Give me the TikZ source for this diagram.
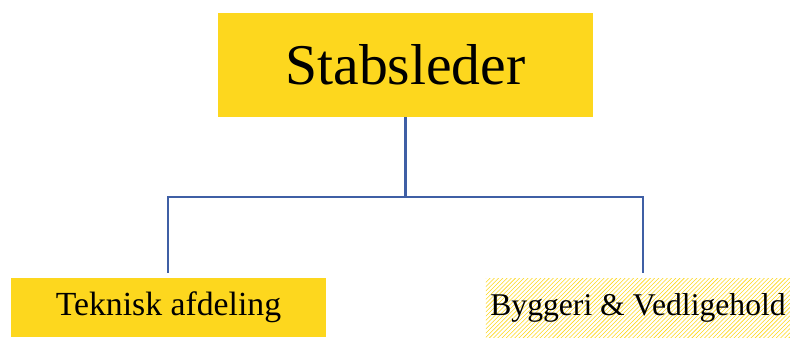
\documentclass[tikz,border=0pt]{standalone}
\usepackage{fontspec}
\setmainfont{Liberation Serif}
\usetikzlibrary{patterns}
\definecolor{boxyellow}{HTML}{FDD71E}
\definecolor{lineblue}{HTML}{3F5FA5}
\begin{document}
\begin{tikzpicture}[x=0.025cm,y=-0.025cm]
\tikzset{
  chief/.style={fill=boxyellow, inner sep=0pt, minimum width=9.375cm, minimum height=2.6cm, font=\fontsize{41}{48}\selectfont},
  unit/.style={inner sep=0pt, minimum width=7.875cm, minimum height=1.475cm, font=\fontsize{22.5}{27}\selectfont},
  link/.style={draw=lineblue, line width=1.8pt}
}
\useasboundingbox (0,0) rectangle (790,338);
\node (lead) at (405.5,65) [chief] {Stabsleder};
\node (tech) at (168.5,307.5) [unit, fill=boxyellow, font=\fontsize{24}{28}\selectfont] {Teknisk afdeling};
\node (build) at (638,307.5) [unit, minimum width=7.6cm, pattern=north east lines, pattern color=boxyellow] {Byggeri \& Vedligehold};
\coordinate (split) at (405.5,197);
\coordinate (lefttop) at (168,273);
\coordinate (righttop) at (643,273);

\draw[link]
(lead.south) -- (split)
(split) -| (lefttop)
(split) -| (righttop);
\end{tikzpicture}
\end{document}
